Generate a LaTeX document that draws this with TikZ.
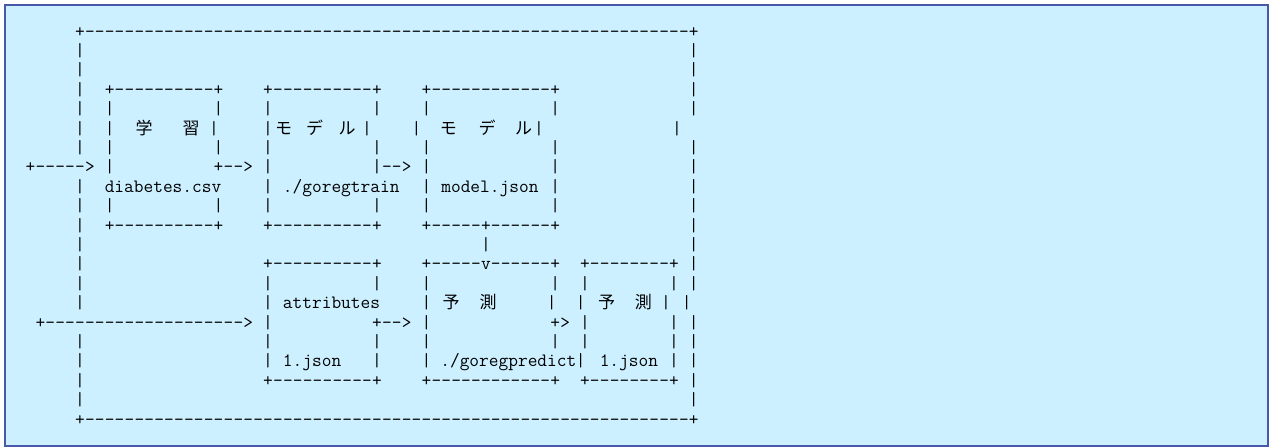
\documentclass[tikz,border=0pt]{standalone}
\usepackage{fontspec}
\newfontfamily\cjk{Noto Sans CJK JP}
\definecolor{bgc}{RGB}{204,240,255}
\definecolor{bdc}{RGB}{72,88,170}
\tikzset{
  g/.style={anchor=base, inner sep=0pt, outer sep=0pt, font=\ttfamily\fontsize{18.857}{20}\selectfont},
  gs/.style={g, anchor=base west},
  jp/.style={anchor=base, inner sep=0pt, outer sep=0pt, font=\cjk\fontsize{17}{17}\selectfont},
}
\newcommand\X[1]{30.5+9.9*(#1)}
\newcommand\Y[1]{-(37.2+19.39*(#1))}
\newcommand\ch[3]{\node[g] (c#1x#2) at ({\X{#2}},{\Y{#1}}) {#3};}
\newcommand\chx[4]{\node[g] (#1) at ({#3},{\Y{#2}}) {#4};}
\newcommand\str[4]{\node[gs] (#1) at ({\X{#3}-4.95},{\Y{#2}}) {#4};}
\newcommand\jp[4]{\node[jp] (#1) at ({#3},{\Y{#2}}) {#4};}
\newcommand\dash[3]{\foreach \c in {#2,...,#3}{\ch{#1}{\c}{-}}}
\newcommand\bars[2]{\foreach \c in {#2}{\ch{#1}{\c}{|}}}
\newcommand\hedge[3]{\ch{#1}{#2}{+}\ch{#1}{#3}{+}\pgfmathtruncatemacro\ha{#2+1}\pgfmathtruncatemacro\hb{#3-1}\dash{#1}{\ha}{\hb}}
\begin{document}
\begin{tikzpicture}[x=1pt,y=1pt]
\useasboundingbox (0,0) rectangle (1272,-447);
\draw[fill=bgc, draw=bdc, line width=1.3pt] (5,-5) rectangle (1268,-446);
% row 0-2
\hedge{0}{5}{67}
\bars{1}{5,67}
\bars{2}{5,67}
% row 3-4
\bars{3}{5,67}
\hedge{3}{8}{19}\hedge{3}{24}{35}\hedge{3}{40}{53}
\bars{4}{5,8,19,24,35,40,53,67}
% row 5
\bars{5}{5,8,24,34,39}
\chx{b5a}{5}{214}{|}\chx{b5b}{5}{539}{|}\chx{b5c}{5}{677}{|}
\jp{j1}{5}{144}{学}\jp{j2}{5}{191}{習}
\jp{j3}{5}{283.5}{モ}\jp{j4}{5}{314.5}{デ}\jp{j5}{5}{347}{ル}
\jp{j6}{5}{448.3}{モ}\jp{j7}{5}{487}{デ}\jp{j8}{5}{523.7}{ル}
% row 6
\bars{6}{5,8,19,24,35,40,53,67}
% row 7
\ch{7}{0}{+}\dash{7}{1}{5}\ch{7}{6}{>}
\bars{7}{8}
\ch{7}{19}{+}\dash{7}{20}{21}\ch{7}{22}{>}
\bars{7}{24}
\ch{7}{35}{|}\dash{7}{36}{37}\ch{7}{38}{>}
\bars{7}{40,53,67}
% row 8
\bars{8}{5,24,40,53,67}
\str{csv}{8}{8}{diabetes.csv}
\str{train}{8}{26}{./goregtrain}
\str{model}{8}{42}{model.json}
% row 9
\bars{9}{5,8,19,24,35,40,53,67}
% row 10
\bars{10}{5,67}
\hedge{10}{8}{19}\hedge{10}{24}{35}
\ch{10}{40}{+}\dash{10}{41}{45}\ch{10}{46}{+}\dash{10}{47}{52}\ch{10}{53}{+}
% row 11
\bars{11}{5,46,67}
% row 12
\bars{12}{5,67}
\hedge{12}{24}{35}
\ch{12}{40}{+}\dash{12}{41}{45}\ch{12}{46}{v}\dash{12}{47}{52}\ch{12}{53}{+}
\hedge{12}{56}{65}
% row 13
\bars{13}{5,24,35,40,53,56,65,67}
% row 14
\bars{14}{5,24,40}
\str{attr}{14}{26}{attributes}
\jp{j9}{14}{451}{予}\jp{j10}{14}{488}{測}
\chx{b14a}{14}{551.7}{|}\chx{b14b}{14}{580.7}{|}
\jp{j11}{14}{606.7}{予}\jp{j12}{14}{643.3}{測}
\chx{b14c}{14}{666}{|}\chx{b14d}{14}{686.7}{|}
% row 15
\ch{15}{1}{+}\dash{15}{2}{21}\ch{15}{22}{>}
\bars{15}{24}
\ch{15}{35}{+}\dash{15}{36}{37}\ch{15}{38}{>}
\bars{15}{40}
\ch{15}{53}{+}\ch{15}{54}{>}
\bars{15}{56,65,67}
% row 16
\bars{16}{5,24,35,40,53,56,65,67}
% row 17
\bars{17}{5,24,35,40,65,67}
\str{jsonA}{17}{26}{1.json}
\str{pred}{17}{41.9}{./goregpredict}
\chx{b17a}{17}{580.7}{|}
\str{jsonB}{17}{58}{1.json}
% row 18
\bars{18}{5,67}
\hedge{18}{24}{35}\hedge{18}{40}{53}\hedge{18}{56}{65}
% row 19
\bars{19}{5,67}
% row 20
\hedge{20}{5}{67}
\end{tikzpicture}
\end{document}
